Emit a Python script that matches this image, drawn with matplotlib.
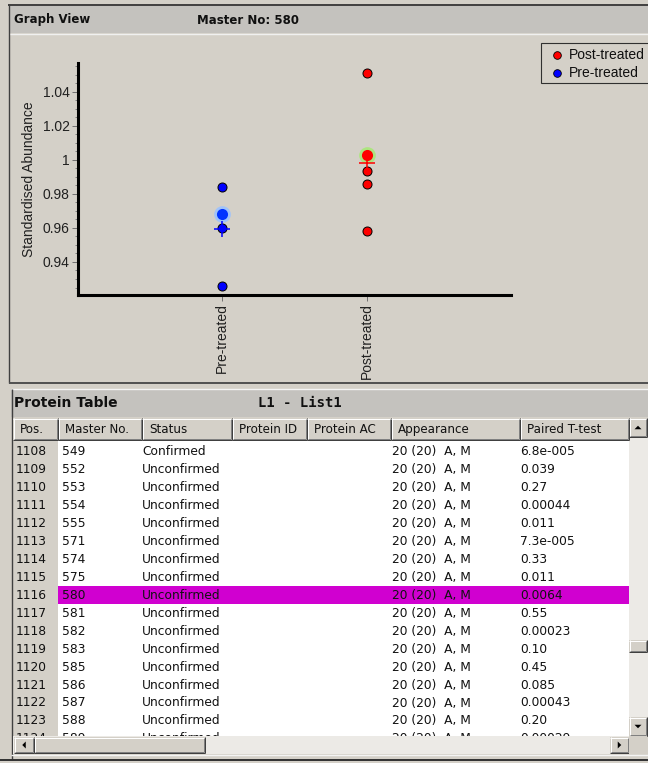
import numpy as np
import matplotlib
matplotlib.use("Agg")
import matplotlib.pyplot as plt
from matplotlib.patches import Rectangle, Polygon

# ---- chart data ----
groups = ["Pre-treated", "Post-treated"]
pre_vals = [0.984, 0.960, 0.926]
pre_sel = 0.968
post_vals = [1.051, 0.9935, 0.986, 0.958]
post_sel = 1.003
master_no = 580

# ---- table data ----
col_names = ["Pos.", "Master No.", "Status", "Protein ID", "Protein AC", "Appearance", "Paired T-test"]
pos = [1108, 1109, 1110, 1111, 1112, 1113, 1114, 1115, 1116, 1117, 1118, 1119, 1120, 1121, 1122, 1123, 1124]
masters = [549, 552, 553, 554, 555, 571, 574, 575, 580, 581, 582, 583, 585, 586, 587, 588, 589]
status = ["Confirmed"] + ["Unconfirmed"] * 16
appearance = ["20 (20)  A, M"] * 17
ttest = ["6.8e-005", "0.039", "0.27", "0.00044", "0.011", "7.3e-005", "0.33", "0.011", "0.0064",
         "0.55", "0.00023", "0.10", "0.45", "0.085", "0.00043", "0.20", "0.00029"]

W, H = 648, 763
BG = "#D4D0C8"
BAR = "#C4C2BE"
UIFONT = "DejaVu Sans"
PLOTFONT = "Liberation Sans"

fig = plt.figure(figsize=(W / 100, H / 100), dpi=100)
fig.patch.set_facecolor("#D4D0C8")

ui = fig.add_axes([0, 0, 1, 1], zorder=0)
ui.set_xlim(0, W)
ui.set_ylim(H, 0)
ui.axis("off")


def box(x0, y0, x1, y1, fc, ec="none", lw=0.0, z=1):
    ui.add_patch(Rectangle((x0, y0), x1 - x0, y1 - y0, facecolor=fc, edgecolor=ec, linewidth=lw, zorder=z))


def hline(y, x0, x1, c, lw=0.72, z=3):
    ui.plot([x0, x1], [y, y], color=c, lw=lw, zorder=z, solid_capstyle="butt")


def vline(x, y0, y1, c, lw=0.72, z=3):
    ui.plot([x, x], [y0, y1], color=c, lw=lw, zorder=z, solid_capstyle="butt")


def button(x0, y0, x1, y1, z=6):
    box(x0, y0, x1, y1, BG, z=z)
    hline(y0 + 0.5, x0, x1, "white", z=z + 1)
    vline(x0 + 0.5, y0, y1, "white", z=z + 1)
    hline(y1 - 0.5, x0, x1, "#404040", z=z + 1)
    vline(x1 - 0.5, y0, y1, "#404040", z=z + 1)
    hline(y1 - 1.5, x0 + 1, x1 - 1, "#808080", z=z + 1)
    vline(x1 - 1.5, y0 + 1, y1 - 1, "#808080", z=z + 1)


def arrow(cx, cy, d, z=8):
    s = 3.5
    if d == "up":
        pts = [(cx - s, cy + s / 2), (cx + s, cy + s / 2), (cx, cy - s / 2)]
    elif d == "down":
        pts = [(cx - s, cy - s / 2), (cx + s, cy - s / 2), (cx, cy + s / 2)]
    elif d == "left":
        pts = [(cx + s / 2, cy - s), (cx + s / 2, cy + s), (cx - s / 2, cy)]
    else:
        pts = [(cx - s / 2, cy - s), (cx - s / 2, cy + s), (cx + s / 2, cy)]
    ui.add_patch(Polygon(pts, closed=True, facecolor="black", edgecolor="none", zorder=z))


# ---- graph view panel ----
box(0, 0, W, H, "#D4D0C8", z=0)
hline(5, 8, W, "#404040", lw=1.4)
vline(9, 5, 383, "#404040", lw=1.0)
box(10, 6, W, 33, BAR)
hline(33.5, 10, W, "#F0F0F0", lw=1.0)
box(10, 34, W, 382, BG)
hline(382.5, 9, W, "#505050", lw=1.4)
ui.text(14, 20, "Graph View", fontsize=8.5, fontweight="bold", family=UIFONT, va="center", color="#101010", zorder=5)
ui.text(197, 20, "Master No: %d" % master_no, fontsize=8.5, fontweight="bold", family=UIFONT, va="center",
        color="#101010", zorder=5)

# ---- plot axes ----
ax = fig.add_axes([78 / W, 1 - 295 / H, 433 / W, 232 / H], zorder=2)
ax.patch.set_alpha(0)
ax.set_xlim(0, 3)
ax.set_ylim(0.9206, 1.0568)
for s in ["top", "right"]:
    ax.spines[s].set_visible(False)
for s in ["left", "bottom"]:
    ax.spines[s].set_linewidth(2.2)
    ax.spines[s].set_color("black")
ax.set_yticks([0.94, 0.96, 0.98, 1.0, 1.02, 1.04])
ax.set_yticklabels(["0.94", "0.96", "0.98", "1", "1.02", "1.04"])
ax.set_yticks(np.arange(0.925, 1.056, 0.005), minor=True)
ax.tick_params(axis="y", which="major", length=4, width=0.7, color="#707070", labelsize=10, pad=2,
               labelcolor="#202020")
ax.tick_params(axis="y", which="minor", length=2, width=0.7, color="#808080")
ax.set_xticks([1, 2])
ax.set_xticklabels(groups, rotation=90, fontsize=10, color="#202020")
ax.tick_params(axis="x", length=4, width=0.7, color="#707070", pad=2)
for lab in ax.get_yticklabels() + ax.get_xticklabels():
    lab.set_family(PLOTFONT)
ax.set_ylabel("Standardised Abundance", fontsize=10, family=PLOTFONT, color="#202020", labelpad=5)

ax.plot([1] * len(pre_vals), pre_vals, "o", color="#0000FF", mec="black", mew=0.7, ms=6.5, zorder=3,
        clip_on=False)
ax.plot([1], [pre_sel], "o", color="#9CC2FF", ms=12, mew=0, alpha=0.9, zorder=3)
ax.plot([1], [pre_sel], "o", color="#0033FF", ms=8, mew=0, zorder=4)
ax.plot([1], [np.mean(pre_vals + [pre_sel])], "+", color="#0000FF", ms=12, mew=1.1, zorder=5)

ax.plot([2] * len(post_vals), post_vals, "o", color="#FF0000", mec="black", mew=0.7, ms=6.5, zorder=3)
ax.plot([2], [post_sel], "o", color="#A8E878", ms=12, mew=0, alpha=0.9, zorder=3)
ax.plot([2], [post_sel], "o", color="#FF0000", ms=8, mew=0, zorder=4)
ax.plot([2], [np.mean(post_vals + [post_sel])], "+", color="#FF0000", ms=12, mew=1.1, zorder=5)

# legend box
box(541, 43, W + 2, 83, BG, ec="#303030", lw=0.8, z=4)
ui.plot([557], [55], "o", color="#FF0000", mec="black", mew=0.6, ms=5.5, zorder=6)
ui.plot([557], [73], "o", color="#0000FF", mec="black", mew=0.6, ms=5.5, zorder=6)
ui.text(569, 55, "Post-treated", fontsize=10, family=PLOTFONT, va="center", color="#101010", zorder=6)
ui.text(569, 73, "Pre-treated", fontsize=10, family=PLOTFONT, va="center", color="#101010", zorder=6)

# ---- protein table panel ----
box(11, 389, W, 417, BAR)
hline(389, 11, W, "#F4F4F4", lw=1.0)
vline(11.5, 389, 760, "#404040", lw=1.0)
ui.text(14, 403, "Protein Table", fontsize=10, fontweight="bold", family=UIFONT, va="center",
        color="#101010", zorder=5)
ui.text(258, 403, "L1 - List1", fontsize=10, fontweight="bold", family="DejaVu Sans Mono", va="center",
        color="#101010", zorder=5)

col_x = [13, 58, 142, 232, 307, 391, 520, 629]
text_x = [16, 62, 142, 236, 311, 392, 520]
row0, rh = 451.7, 17.95
top, bot = 440, 736

# body
box(58, top, 629, bot, "white", z=2)
box(13, top, 58, bot, BG, z=2)
hl = masters.index(master_no)
box(58, row0 + hl * rh - rh / 2, 629, row0 + hl * rh + rh / 2, "#D000D0", z=3)
for i in range(len(pos)):
    y = row0 + i * rh
    row = [str(pos[i]), str(masters[i]), status[i], "", "", appearance[i], ttest[i]]
    for j, t in enumerate(row):
        if t:
            ui.text(text_x[j], y, t, fontsize=8.8, family=UIFONT, va="center", ha="left", color="#111111",
                    zorder=4, clip_on=True)

# column headers
for j in range(len(col_names)):
    button(col_x[j], 418, col_x[j + 1], 440)
    ui.text(col_x[j] + 7, 429.5, col_names[j], fontsize=8.6, family=UIFONT, va="center", color="#111111",
            zorder=8)

# vertical scrollbar
box(629, 418, W, bot, "#ECEAE6", z=6)
button(629, 418, 647, 437)
arrow(638, 427.5, "up")
button(629, 640, 647, 652)
button(629, 717, 647, 736)
arrow(638, 726.5, "down")

# horizontal scrollbar
box(13, 736, 647, 754, "#ECEAE6", z=6)
button(14, 737, 34, 753)
arrow(24, 745, "left")
button(34, 737, 205, 753)
button(610, 737, 629, 753)
arrow(619.5, 745, "right")
box(629, 736, 647, 754, BG, z=7)
hline(754.5, 11, W, "#F4F4F4", lw=1.0)
hline(760, 0, W, "#303030", lw=1.4)

fig.savefig("out.png", dpi=100, facecolor=fig.get_facecolor())
